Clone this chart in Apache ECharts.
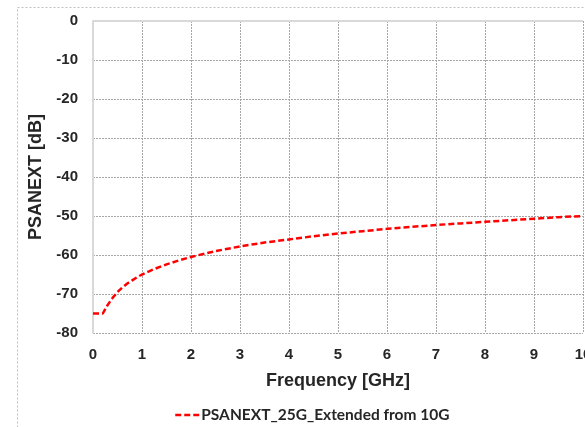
<!DOCTYPE html>
<html><head><meta charset="utf-8">
<script src="https://cdn.jsdelivr.net/npm/echarts@6/dist/echarts.min.js"></script>
<style>html,body{margin:0;padding:0;background:#fff}#c{width:585px;height:427px}</style>
</head><body><div id="c"></div>
<script>
const seriesName = 'PSANEXT_25G_Extended from 10G';
const freqGHz = [0, 0.1, 0.2, 0.22, 0.3, 0.4, 0.5, 0.6, 0.7, 0.8, 0.9, 1, 1.25, 1.5, 1.75, 2, 2.5, 3, 3.5, 4, 4.5, 5, 5.5, 6, 6.5, 7, 7.5, 8, 8.5, 9, 9.5, 10];
const psanextDb = [-75, -75, -75, -75, -72.8, -71, -69.5, -68.3, -67.3, -66.5, -65.7, -65, -63.6, -62.4, -61.4, -60.5, -59, -57.8, -56.8, -56, -55.2, -54.5, -53.9, -53.3, -52.8, -52.3, -51.9, -51.5, -51.1, -50.7, -50.3, -50];
const yTicks = [0, -10, -20, -30, -40, -50, -60, -70, -80];
const xTicks = [0,1,2,3,4,5,6,7,8,9,10];

const chart = echarts.init(document.getElementById('c'), null, {renderer:'canvas'});
const lab = {fontFamily:'Liberation Sans, Arial, sans-serif', fontWeight:'bold', fontSize:15, color:'#262626'};
chart.setOption({
  animation:false,
  backgroundColor:'#fff',
  graphic:[{type:'rect', shape:{x:17.5, y:7.5, width:620, height:460}, style:{fill:'none', stroke:'#bfbfbf', lineWidth:1, lineDash:[2,2]}, z:-1}],
  grid:{left:93, right:2, top:21, bottom:94, outerBoundsMode:'none', containLabel:false},
  xAxis:{type:'value', min:0, max:10, interval:1,
    name:'Frequency [GHz]', nameLocation:'middle', nameGap:39,
    nameTextStyle:{fontFamily:'Liberation Sans, Arial, sans-serif', fontWeight:'bold', fontSize:18, color:'#262626'},
    axisLine:{show:false}, axisTick:{show:false},
    axisLabel:Object.assign({margin:14, showMaxLabel:true, hideOverlap:false}, lab),
    splitLine:{show:true, lineStyle:{color:'#a6a6a6', type:[2,1], width:1}}
  },
  yAxis:{type:'value', min:-80, max:0, interval:10,
    name:'PSANEXT [dB]', nameLocation:'middle', nameGap:42,
    nameTextStyle:{fontFamily:'Liberation Sans, Arial, sans-serif', fontWeight:'bold', fontSize:18, color:'#262626'},
    axisLine:{show:true, lineStyle:{color:'#d9d9d9', width:2}}, axisTick:{show:false},
    axisLabel:Object.assign({margin:15}, lab),
    splitLine:{show:true, lineStyle:{color:'#a6a6a6', type:[2,1], width:1}}
  },
  legend:{top:402, left:169, itemWidth:24, itemHeight:12, itemGap:4,
    data:[seriesName],
    itemStyle:{opacity:0},
    lineStyle:{color:'#ff0000', width:2.5, type:[6,3]},
    textStyle:{fontFamily:'Lato, sans-serif', fontWeight:'bold', fontSize:15.5, color:'#262626', padding:[0,0,0,-3]}},
  series:[
    {type:'line', name:seriesName, symbol:'none', smooth:false,
     data:freqGHz.map((f,i)=>[f, psanextDb[i]]),
     lineStyle:{color:'#ff0000', width:2.5, type:[6,3]}, itemStyle:{color:'#ff0000'}, z:3},
    {type:'line', data:[[0,0],[10,0]], symbol:'none', silent:true, lineStyle:{color:'#d9d9d9', width:2}, z:1, tooltip:{show:false}}
  ]
});
</script></body></html>
